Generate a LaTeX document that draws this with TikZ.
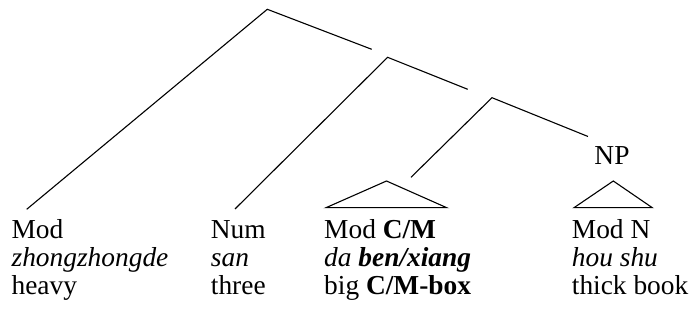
\documentclass[tikz,border=0pt]{standalone}
\usepackage{fontspec}
\setmainfont{Liberation Serif}
\begin{document}
\begin{tikzpicture}[x=0.5pt,y=-0.5pt,
  branch/.style={line width=0.55pt},
  word/.style={anchor=base west,inner sep=0pt,font=\fontsize{13.7}{13.7}\selectfont},
  lab/.style={anchor=base,inner sep=0pt,font=\fontsize{13.7}{13.7}\selectfont}]
\useasboundingbox (0,0) rectangle (693,320);
% apices and branch ends
\coordinate (a1) at (267.3,9.3);
\coordinate (a1l) at (26.7,209.3);
\coordinate (a1r) at (371.7,49.3);
\coordinate (a2) at (387.6,57.3);
\coordinate (a2l) at (235,209);
\coordinate (a2r) at (467.7,89.3);
\coordinate (a3) at (492,97.7);
\coordinate (a3l) at (411,177.3);
\coordinate (a3r) at (588,136.5);
% triangles
\coordinate (t1) at (386.5,181);
\coordinate (t1l) at (326,207.7);
\coordinate (t1r) at (446.7,207.7);
\coordinate (t2) at (613.3,181);
\coordinate (t2l) at (574,207.7);
\coordinate (t2r) at (652.3,207.7);
\draw[branch] (a1l) -- (a1) -- (a1r);
\draw[branch] (a2l) -- (a2) -- (a2r);
\draw[branch] (a3l) -- (a3) -- (a3r);
\draw[branch] (t1l) -- (t1) -- (t1r) -- cycle;
\draw[branch] (t2l) -- (t2) -- (t2r) -- cycle;
% NP label
\node[lab] (np) at (612,164.3) {NP};
% column 1
\node[word] (c1a) at (11.2,239) {Mod};
\node[word] (c1b) at (11.2,266.7) {\itshape zhongzhongde};
\node[word] (c1c) at (11.2,294.3) {heavy};
% column 2
\node[word] (c2a) at (210.5,239) {Num};
\node[word] (c2b) at (210.5,266.7) {\itshape san};
\node[word] (c2c) at (210.5,294.3) {three};
% column 3
\node[word] (c3a) at (323.8,239) {Mod \textbf{C/M}};
\node[word] (c3b) at (323.8,266.7) {\itshape da \textbf{ben/xiang}};
\node[word] (c3c) at (323.8,294.3) {big \textbf{C/M-box}};
% column 4
\node[word] (c4a) at (571.5,239) {Mod N};
\node[word] (c4b) at (571.5,266.7) {\itshape hou shu};
\node[word] (c4c) at (571.5,294.3) {thick book};
\end{tikzpicture}
\end{document}
